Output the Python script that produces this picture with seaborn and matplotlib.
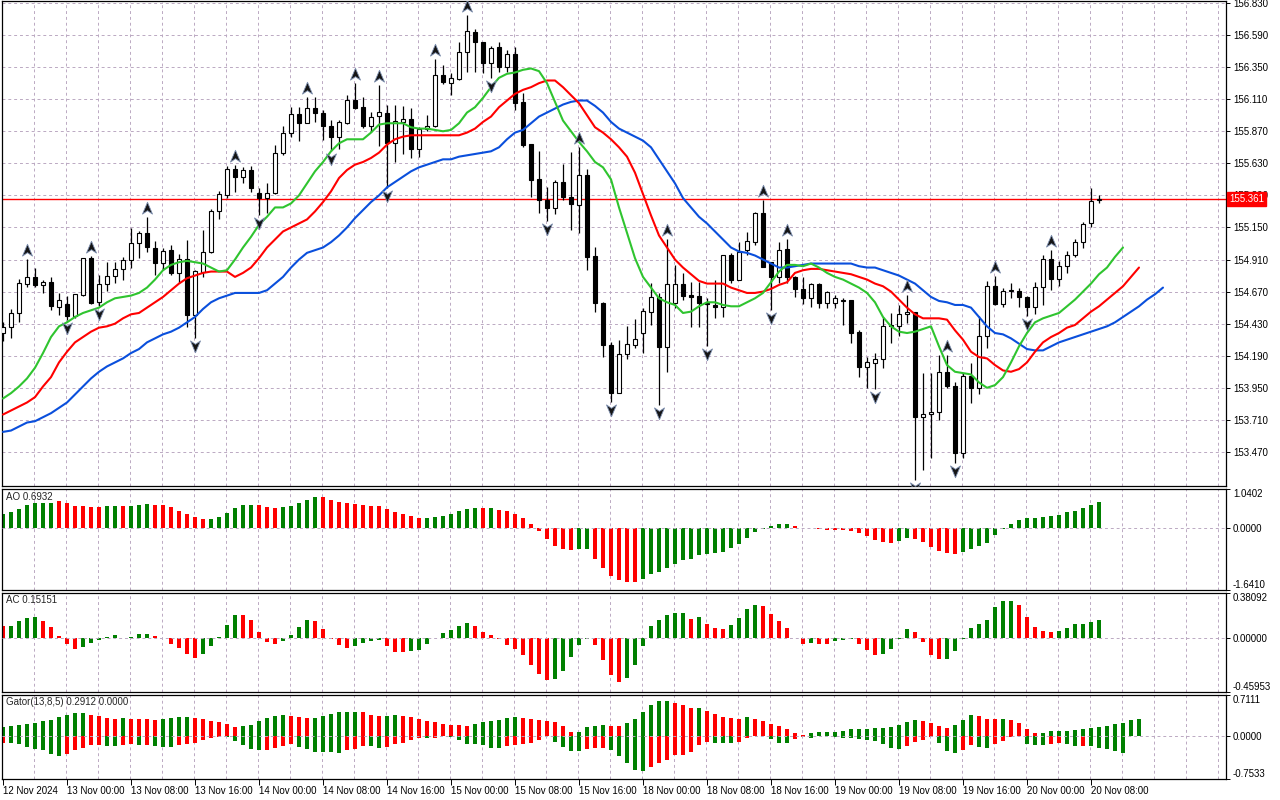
import numpy as np
import pandas as pd
import matplotlib
matplotlib.use("Agg")
import matplotlib.pyplot as plt
import seaborn as sns
from matplotlib import transforms
from matplotlib.path import Path

# ---- hourly candles ----
OPEN = [154.36, 154.405, 154.51, 154.73, 154.78, 154.72, 154.74, 154.555, 154.58, 154.49,
        154.645, 154.92, 154.59, 154.728, 154.787, 154.84, 154.907, 155.035, 155.11, 154.997,
        154.885, 154.98, 154.81, 154.915, 154.495, 154.82, 154.97, 155.273, 155.393, 155.588,
        155.53, 155.58, 155.41, 155.37, 155.41, 155.708, 155.86, 156.0, 155.934, 156.045,
        156.01, 155.91, 155.827, 155.933, 156.104, 156.05, 155.91, 155.985, 156.007, 155.783,
        155.94, 155.96, 155.74, 155.888, 155.91, 156.29, 156.232, 156.26, 156.463, 156.613,
        156.54, 156.38, 156.50, 156.352, 156.45, 156.09, 155.775, 155.513, 155.356, 155.296,
        155.49, 155.378, 155.32, 155.543, 154.937, 154.585, 154.27, 153.912, 154.203, 154.27,
        154.36, 154.518, 154.63, 154.255, 154.585, 154.727, 154.645, 154.637, 154.585, 154.57,
        154.555, 154.944, 154.757, 154.98, 155.041, 155.258, 154.892, 154.78, 154.989, 154.78,
        154.69, 154.622, 154.727, 154.585, 154.585, 154.60, 154.607, 154.368, 154.105, 154.136,
        154.165, 154.413, 154.413, 154.503, 154.518, 153.732, 153.755, 153.77, 154.068, 153.963,
        153.463, 154.038, 153.948, 154.338, 154.713, 154.578, 154.675, 154.675, 154.63, 154.555,
        154.705, 154.915, 154.765, 154.862, 154.944, 155.04, 155.18, 155.353]
HIGH = [154.44, 154.54, 154.765, 154.915, 154.847, 154.757, 154.78, 154.66, 154.64, 154.655,
        154.925, 154.937, 154.795, 154.89, 154.89, 154.93, 155.146, 155.12, 155.23, 155.05,
        155.0, 155.02, 154.95, 155.056, 154.83, 155.13, 155.29, 155.42, 155.61, 155.62,
        155.60, 155.61, 155.447, 155.485, 155.77, 155.91, 156.05, 156.05, 156.127, 156.127,
        156.03, 155.955, 155.955, 156.14, 156.232, 156.127, 156.015, 156.216, 156.067, 156.067,
        156.06, 156.045, 155.90, 155.99, 156.41, 156.367, 156.307, 156.54, 156.74, 156.635,
        156.54, 156.508, 156.54, 156.475, 156.50, 156.157, 155.775, 155.723, 155.453, 155.505,
        155.625, 155.715, 155.753, 155.588, 155.004, 154.593, 154.293, 154.308, 154.413, 154.465,
        154.548, 154.735, 154.66, 155.064, 154.87, 154.81, 154.742, 154.742, 154.622, 154.757,
        154.944, 154.96, 155.04, 155.116, 155.266, 155.356, 154.892, 155.04, 155.064, 154.787,
        154.78, 154.735, 154.735, 154.675, 154.645, 154.622, 154.607, 154.383, 154.18, 154.21,
        154.48, 154.51, 154.57, 154.645, 154.52, 154.06, 154.06, 154.195, 154.195, 153.99,
        154.06, 154.135, 154.488, 154.75, 154.787, 154.697, 154.735, 154.697, 154.637, 154.742,
        154.944, 154.982, 154.90, 154.974, 155.064, 155.19, 155.446, 155.39]
LOW = [154.30, 154.32, 154.44, 154.705, 154.705, 154.66, 154.53, 154.495, 154.46, 154.47,
       154.64, 154.58, 154.56, 154.675, 154.735, 154.757, 154.847, 154.92, 154.967, 154.795,
       154.83, 154.795, 154.735, 154.405, 154.325, 154.78, 154.96, 155.21, 155.37, 155.415,
       155.48, 155.415, 155.245, 155.26, 155.40, 155.69, 155.83, 155.80, 155.93, 155.94,
       155.806, 155.72, 155.735, 155.925, 156.04, 155.895, 155.865, 155.76, 155.447, 155.64,
       155.70, 155.67, 155.68, 155.875, 155.905, 156.225, 156.14, 156.254, 156.314, 156.314,
       156.307, 156.268, 156.314, 156.314, 156.03, 155.753, 155.378, 155.258, 155.198, 155.25,
       155.356, 155.13, 155.11, 154.832, 154.518, 154.18, 153.844, 153.912, 154.166, 154.248,
       154.21, 154.42, 153.82, 154.07, 154.548, 154.608, 154.405, 154.405, 154.262, 154.472,
       154.48, 154.735, 154.757, 154.944, 155.018, 154.855, 154.533, 154.735, 154.735, 154.63,
       154.578, 154.555, 154.548, 154.548, 154.548, 154.42, 154.285, 154.03, 153.948, 153.94,
       154.098, 154.285, 154.338, 154.435, 153.26, 153.335, 153.425, 153.71, 153.948, 153.388,
       153.425, 153.836, 153.90, 154.248, 154.57, 154.555, 154.622, 154.555, 154.49, 154.505,
       154.57, 154.682, 154.712, 154.81, 154.93, 155.0, 155.154, 155.33]
CLOSE = [154.405, 154.51, 154.735, 154.78, 154.72, 154.74, 154.56, 154.607, 154.49, 154.65,
         154.92, 154.585, 154.728, 154.787, 154.84, 154.907, 155.035, 155.11, 155.005, 154.885,
         154.975, 154.81, 154.915, 154.495, 154.824, 154.97, 155.273, 155.40, 155.588, 155.53,
         155.58, 155.447, 155.37, 155.41, 155.708, 155.86, 156.0, 155.934, 156.045, 156.007,
         155.91, 155.827, 155.94, 156.104, 156.045, 155.91, 155.977, 156.015, 155.783, 155.948,
         155.96, 155.74, 155.888, 155.91, 156.29, 156.24, 156.27, 156.463, 156.62, 156.54,
         156.38, 156.49, 156.352, 156.45, 156.082, 155.768, 155.505, 155.356, 155.296, 155.49,
         155.378, 155.326, 155.543, 154.93, 154.585, 154.27, 153.912, 154.203, 154.278, 154.315,
         154.525, 154.63, 154.255, 154.727, 154.727, 154.637, 154.63, 154.585, 154.578, 154.555,
         154.944, 154.757, 154.967, 155.048, 155.258, 154.855, 154.78, 154.98, 154.78, 154.69,
         154.622, 154.727, 154.585, 154.667, 154.622, 154.605, 154.36, 154.105, 154.143, 154.165,
         154.413, 154.42, 154.503, 154.518, 153.732, 153.755, 153.77, 154.068, 153.963, 153.463,
         154.038, 153.948, 154.338, 154.713, 154.578, 154.675, 154.682, 154.63, 154.555, 154.705,
         154.915, 154.765, 154.862, 154.944, 155.04, 155.176, 155.35, 155.361]

# ---- alligator lines (already shifted forward, so they run past the last candle) ----
JAW = [153.62, 153.63, 153.66, 153.69, 153.70, 153.73, 153.76, 153.80, 153.84, 153.90,
       153.96, 154.02, 154.07, 154.11, 154.14, 154.17, 154.21, 154.24, 154.29, 154.32,
       154.35, 154.37, 154.40, 154.44, 154.48, 154.54, 154.59, 154.62, 154.64, 154.66,
       154.66, 154.66, 154.66, 154.68, 154.73, 154.78, 154.85, 154.91, 154.96, 154.98,
       155.00, 155.04, 155.09, 155.15, 155.22, 155.28, 155.34, 155.39, 155.45, 155.49,
       155.53, 155.57, 155.60, 155.62, 155.64, 155.66, 155.66, 155.68, 155.69, 155.70,
       155.71, 155.72, 155.75, 155.81, 155.86, 155.88, 155.93, 155.98, 156.01, 156.04,
       156.07, 156.09, 156.10, 156.10, 156.06, 156.01, 155.94, 155.89, 155.86, 155.83,
       155.80, 155.75, 155.66, 155.57, 155.48, 155.37, 155.30, 155.23, 155.18, 155.12,
       155.06, 155.00, 154.97, 154.96, 154.94, 154.91, 154.88, 154.85, 154.85, 154.86,
       154.87, 154.88, 154.88, 154.88, 154.88, 154.88, 154.88, 154.86, 154.85, 154.85,
       154.83, 154.81, 154.79, 154.76, 154.73, 154.68, 154.63, 154.60, 154.59, 154.57,
       154.57, 154.55, 154.48, 154.41, 154.36, 154.35, 154.32, 154.28, 154.24, 154.23,
       154.23, 154.26, 154.29, 154.31, 154.33, 154.35, 154.37, 154.39, 154.41, 154.44,
       154.48, 154.52, 154.56, 154.61, 154.65, 154.70]
TEETH = [153.75, 153.78, 153.81, 153.84, 153.88, 153.96, 154.03, 154.14, 154.22, 154.29,
         154.33, 154.37, 154.40, 154.41, 154.43, 154.47, 154.50, 154.51, 154.55, 154.59,
         154.63, 154.68, 154.73, 154.77, 154.79, 154.81, 154.82, 154.82, 154.82, 154.78,
         154.81, 154.85, 154.92, 155.00, 155.06, 155.12, 155.15, 155.18, 155.21, 155.27,
         155.34, 155.42, 155.52, 155.58, 155.62, 155.64, 155.67, 155.71, 155.77, 155.81,
         155.83, 155.84, 155.84, 155.84, 155.84, 155.84, 155.84, 155.84, 155.86, 155.89,
         155.94, 155.98, 156.05, 156.10, 156.15, 156.18, 156.20, 156.23, 156.25, 156.25,
         156.20, 156.14, 156.08, 155.99, 155.90, 155.86, 155.81, 155.75, 155.68, 155.56,
         155.40, 155.24, 155.09, 155.00, 154.91, 154.85, 154.80, 154.75, 154.73, 154.73,
         154.73, 154.70, 154.68, 154.66, 154.66, 154.67, 154.69, 154.72, 154.74, 154.81,
         154.83, 154.84, 154.84, 154.83, 154.82, 154.81, 154.80, 154.78, 154.76, 154.73,
         154.71, 154.67, 154.61, 154.55, 154.50, 154.47, 154.47, 154.47, 154.46, 154.38,
         154.31, 154.22, 154.18, 154.17, 154.12, 154.08, 154.07, 154.09, 154.14, 154.22,
         154.29, 154.33, 154.36, 154.40, 154.42, 154.47, 154.52, 154.56, 154.61, 154.66,
         154.71, 154.78, 154.85]
LIPS = [153.87, 153.91, 153.96, 154.02, 154.10, 154.21, 154.33, 154.41, 154.44, 154.48,
        154.51, 154.53, 154.55, 154.59, 154.62, 154.63, 154.64, 154.66, 154.70, 154.76,
        154.83, 154.87, 154.89, 154.90, 154.89, 154.88, 154.85, 154.82, 154.83, 154.91,
        155.00, 155.08, 155.17, 155.23, 155.30, 155.30, 155.33, 155.39, 155.48, 155.57,
        155.64, 155.72, 155.78, 155.81, 155.81, 155.81, 155.86, 155.92, 155.93, 155.93,
        155.93, 155.90, 155.89, 155.89, 155.88, 155.87, 155.88, 155.93, 156.01, 156.05,
        156.12, 156.20, 156.27, 156.30, 156.31, 156.33, 156.34, 156.32, 156.23, 156.09,
        155.95, 155.87, 155.79, 155.72, 155.64, 155.60, 155.51, 155.30, 155.11, 154.92,
        154.78, 154.70, 154.62, 154.59, 154.57, 154.51, 154.52, 154.56, 154.59, 154.59,
        154.57, 154.56, 154.56, 154.59, 154.62, 154.66, 154.74, 154.82, 154.87, 154.87,
        154.86, 154.88, 154.85, 154.81, 154.78, 154.76, 154.73, 154.70, 154.66, 154.59,
        154.48, 154.41, 154.37, 154.36, 154.37, 154.39, 154.41, 154.26, 154.12, 154.07,
        154.06, 154.05, 153.99, 153.95, 153.97, 154.03, 154.14, 154.26, 154.36, 154.44,
        154.47, 154.49, 154.51, 154.56, 154.61, 154.67, 154.73, 154.80, 154.85, 154.93,
        155.00]

# fractal bars
UP_FRACTALS = [3, 11, 18, 29, 38, 44, 47, 54, 58, 72, 83, 95, 98, 113, 118, 124, 131]
DOWN_FRACTALS = [8, 12, 24, 32, 41, 48, 61, 68, 76, 82, 88, 96, 109, 114, 119, 128]

# ---- Awesome Oscillator ----
AO = [0.377, 0.421, 0.50, 0.623, 0.667, 0.667, 0.667, 0.711, 0.667, 0.579,
      0.579, 0.553, 0.553, 0.579, 0.579, 0.579, 0.579, 0.614, 0.640, 0.614,
      0.614, 0.553, 0.465, 0.377, 0.289, 0.246, 0.246, 0.289, 0.404, 0.526,
      0.614, 0.614, 0.614, 0.553, 0.526, 0.553, 0.579, 0.667, 0.754, 0.816,
      0.816, 0.746, 0.684, 0.658, 0.640, 0.614, 0.596, 0.579, 0.509, 0.421,
      0.377, 0.316, 0.263, 0.263, 0.289, 0.333, 0.377, 0.447, 0.50, 0.526,
      0.526, 0.526, 0.491, 0.447, 0.377, 0.263, 0.114, -0.088, -0.289, -0.474,
      -0.544, -0.570, -0.544, -0.544, -0.807, -1.044, -1.263, -1.386, -1.421, -1.421,
      -1.351, -1.228, -1.158, -1.070, -0.939, -0.833, -0.807, -0.702, -0.675, -0.658,
      -0.632, -0.526, -0.412, -0.254, -0.096, -0.018, 0.053, 0.105, 0.105, 0.070,
      0.018, 0.005, -0.009, -0.044, -0.044, -0.044, -0.079, -0.123, -0.211, -0.307,
      -0.360, -0.386, -0.342, -0.254, -0.289, -0.368, -0.50, -0.605, -0.658, -0.684,
      -0.632, -0.553, -0.474, -0.386, -0.175, -0.009, 0.105, 0.211, 0.263, 0.263,
      0.289, 0.316, 0.342, 0.421, 0.465, 0.526, 0.605, 0.6932]
AO_RUNS = [('g', 7), ('r', 6), ('g', 2), ('r', 1), ('g', 3), ('r', 7), ('g', 6), ('r', 3),
           ('g', 5), ('r', 13), ('g', 7), ('r', 1), ('g', 1), ('r', 10), ('g', 2), ('r', 6),
           ('g', 19), ('r', 2), ('g', 1), ('r', 10), ('g', 2), ('r', 6), ('g', 18)]

# ---- Accelerator Oscillator ----
AC = [0.097, 0.103, 0.139, 0.169, 0.178, 0.144, 0.094, 0.019, -0.056, -0.097,
      -0.081, -0.047, -0.022, 0.008, 0.028, -0.003, 0.008, 0.036, 0.036, 0.019,
      -0.003, -0.053, -0.089, -0.139, -0.172, -0.136, -0.069, 0.011, 0.111, 0.194,
      0.194, 0.153, 0.053, -0.036, -0.053, -0.028, 0.028, 0.094, 0.153, 0.144,
      0.078, -0.011, -0.064, -0.089, -0.069, -0.044, -0.025, -0.019, -0.069, -0.119,
      -0.119, -0.111, -0.103, -0.053, 0.003, 0.044, 0.069, 0.103, 0.128, 0.103,
      0.053, 0.028, -0.011, -0.061, -0.094, -0.147, -0.231, -0.303, -0.361, -0.353,
      -0.278, -0.164, -0.064, -0.008, -0.061, -0.186, -0.314, -0.378, -0.344, -0.231,
      -0.069, 0.103, 0.153, 0.194, 0.211, 0.211, 0.161, 0.178, 0.119, 0.086,
      0.078, 0.111, 0.169, 0.244, 0.278, 0.269, 0.203, 0.144, 0.086, -0.003,
      -0.056, -0.047, -0.050, -0.056, -0.028, -0.017, -0.011, -0.056, -0.106, -0.147,
      -0.139, -0.097, -0.011, 0.078, 0.053, -0.039, -0.147, -0.181, -0.178, -0.111,
      -0.011, 0.086, 0.119, 0.153, 0.261, 0.311, 0.311, 0.278, 0.178, 0.094,
      0.061, 0.053, 0.061, 0.086, 0.119, 0.119, 0.136, 0.15151]
AC_RUNS = [('r', 1), ('g', 4), ('r', 5), ('g', 5), ('r', 1), ('g', 3), ('r', 6), ('g', 5),
           ('r', 5), ('g', 4), ('r', 5), ('g', 4), ('r', 3), ('g', 8), ('r', 10), ('g', 5),
           ('r', 4), ('g', 8), ('r', 1), ('g', 1), ('r', 3), ('g', 4), ('r', 6), ('g', 1),
           ('r', 2), ('g', 3), ('r', 3), ('g', 4), ('r', 4), ('g', 9), ('r', 5), ('g', 6)]

# ---- Gator oscillator ----
GATOR_UP = [0.146, 0.163, 0.181, 0.198, 0.216, 0.251, 0.268, 0.321, 0.355, 0.390,
            0.390, 0.355, 0.338, 0.303, 0.286, 0.303, 0.300, 0.290, 0.286, 0.283,
            0.286, 0.303, 0.321, 0.321, 0.303, 0.286, 0.251, 0.233, 0.198, 0.146,
            0.163, 0.181, 0.251, 0.303, 0.338, 0.355, 0.338, 0.321, 0.303, 0.303,
            0.338, 0.373, 0.408, 0.408, 0.408, 0.408, 0.355, 0.338, 0.338, 0.355,
            0.352, 0.321, 0.286, 0.251, 0.233, 0.198, 0.196, 0.181, 0.163, 0.198,
            0.233, 0.251, 0.268, 0.303, 0.321, 0.318, 0.286, 0.268, 0.251, 0.233,
            0.163, 0.058, 0.060, 0.146, 0.163, 0.181, 0.178, 0.176, 0.216, 0.286,
            0.408, 0.530, 0.600, 0.602, 0.565, 0.530, 0.478, 0.480, 0.425, 0.373,
            0.321, 0.303, 0.300, 0.321, 0.286, 0.251, 0.198, 0.163, 0.111, 0.041,
            0.017, 0.041, 0.058, 0.060, 0.062, 0.076, 0.111, 0.113, 0.115, 0.128,
            0.130, 0.146, 0.181, 0.233, 0.268, 0.251, 0.216, 0.163, 0.128, 0.181,
            0.268, 0.355, 0.338, 0.286, 0.284, 0.286, 0.268, 0.216, 0.111, 0.041,
            0.043, 0.076, 0.078, 0.080, 0.093, 0.111, 0.128, 0.146, 0.163, 0.198,
            0.216, 0.268, 0.2912]
GATOR_DN = [-0.117, -0.134, -0.146, -0.192, -0.239, -0.251, -0.326, -0.344, -0.309, -0.256,
            -0.221, -0.169, -0.152, -0.181, -0.181, -0.152, -0.150, -0.155, -0.152, -0.181,
            -0.198, -0.200, -0.163, -0.146, -0.117, -0.076, -0.041, -0.017, -0.029, -0.093,
            -0.163, -0.239, -0.256, -0.250, -0.216, -0.181, -0.146, -0.192, -0.239, -0.286,
            -0.286, -0.288, -0.303, -0.256, -0.227, -0.181, -0.183, -0.221, -0.198, -0.146,
            -0.128, -0.076, -0.041, -0.043, -0.040, -0.006, -0.023, -0.076, -0.146, -0.148,
            -0.163, -0.216, -0.218, -0.181, -0.163, -0.146, -0.128, -0.076, -0.006, -0.111,
            -0.198, -0.268, -0.270, -0.227, -0.216, -0.214, -0.251, -0.355, -0.478, -0.600,
            -0.618, -0.548, -0.478, -0.425, -0.338, -0.336, -0.286, -0.163, -0.111, -0.128,
            -0.130, -0.132, -0.111, -0.041, -0.006, -0.003, -0.058, -0.117, -0.134, -0.058,
            -0.023, -0.041, -0.006, -0.008, -0.023, -0.041, -0.043, -0.058, -0.076, -0.093,
            -0.146, -0.216, -0.233, -0.181, -0.111, -0.076, -0.023, -0.128, -0.268, -0.303,
            -0.251, -0.163, -0.198, -0.216, -0.146, -0.093, -0.023, -0.006, -0.146, -0.163,
            -0.165, -0.146, -0.128, -0.146, -0.181, -0.179, -0.181, -0.216, -0.233, -0.268,
            -0.303, -0.005, 0.0]
GATOR_UP_RUNS = [('g', 11), ('r', 4), ('g', 1), ('r', 4), ('g', 4), ('r', 6), ('g', 6), ('r', 3),
                 ('g', 6), ('r', 3), ('g', 2), ('r', 9), ('g', 6), ('r', 7), ('g', 4), ('r', 2),
                 ('g', 6), ('r', 3), ('g', 1), ('r', 5), ('g', 1), ('r', 7), ('g', 14), ('r', 4),
                 ('g', 3), ('r', 3), ('g', 1), ('r', 4), ('g', 13)]
GATOR_DN_RUNS = [('r', 1), ('g', 7), ('r', 5), ('g', 2), ('r', 2), ('g', 1), ('r', 1), ('g', 3),
                 ('r', 6), ('g', 5), ('r', 4), ('g', 6), ('r', 3), ('g', 2), ('r', 5), ('g', 1),
                 ('r', 2), ('g', 7), ('r', 6), ('g', 4), ('r', 3), ('g', 5), ('r', 8), ('g', 3),
                 ('r', 4), ('g', 3), ('r', 2), ('g', 1), ('r', 1), ('g', 10), ('r', 4), ('g', 3),
                 ('r', 2), ('g', 2), ('r', 4), ('g', 3), ('r', 2), ('g', 2), ('r', 1), ('g', 5),
                 ('r', 2)]

# ---- axis text ----
PRICE_TICKS = [156.830, 156.590, 156.350, 156.110, 155.870, 155.630, 155.390, 155.150,
               154.910, 154.670, 154.430, 154.190, 153.950, 153.710, 153.470]
LAST_PRICE = 155.361
TIME_BARS = [0, 8, 16, 24, 32, 40, 48, 56, 64, 72, 80, 88, 96, 104, 112, 120, 128, 136]
TIME_LABELS = ['12 Nov 2024', '13 Nov 00:00', '13 Nov 08:00', '13 Nov 16:00', '14 Nov 00:00',
               '14 Nov 08:00', '14 Nov 16:00', '15 Nov 00:00', '15 Nov 08:00', '15 Nov 16:00',
               '18 Nov 00:00', '18 Nov 08:00', '18 Nov 16:00', '19 Nov 00:00', '19 Nov 08:00',
               '19 Nov 16:00', '20 Nov 00:00', '20 Nov 08:00']
AO_LIM = (-1.6410, 1.0402)
AC_LIM = (-0.45953, 0.38092)
GATOR_LIM = (-0.7533, 0.7111)

GREEN, RED = '#008000', '#ff0000'
GRID = '#bba9c2'
FS = 7


def expand(runs):
    out = []
    for c, n in runs:
        out += [c] * n
    return out


def px_box(x0, y0, x1, y1):
    return [x0 / 1280, 1 - y1 / 800, (x1 - x0) / 1280, (y1 - y0) / 800]


def frame(ax):
    ax.set_xlim(-0.125, 152.875)
    ax.set_xlabel('')
    ax.set_ylabel('')
    ax.set_xticks([])
    for s in ax.spines.values():
        s.set_visible(True)
        s.set_color('black')
        s.set_linewidth(0.9)
    for x in range(4, 153, 4):
        ax.axvline(x - 0.1, color=GRID, lw=0.7, ls=(0, (3, 3)), zorder=0)
    ax.yaxis.tick_right()
    ax.tick_params(axis='y', direction='out', length=3, width=0.7, pad=2,
                   labelsize=FS, colors='black', right=True, left=False)


def histogram(ax, values, runs, lim, fmt, title):
    d = pd.DataFrame({'x': np.arange(len(values)), 'v': values, 'c': expand(runs)})
    sns.barplot(data=d, x='x', y='v', hue='c', palette={'g': GREEN, 'r': RED},
                native_scale=True, dodge=False, width=0.62, errorbar=None,
                legend=False, saturation=1, linewidth=0, ax=ax)
    ax.axhline(0, color=GRID, lw=0.7, ls=(0, (3, 3)), zorder=3)
    frame(ax)
    ax.set_ylim(*lim)
    ax.set_yticks([lim[0], 0, lim[1]])
    ax.set_yticklabels([fmt % lim[0], fmt % 0, fmt % lim[1]])
    lbls = ax.get_yticklabels()
    lbls[0].set_va('bottom')
    lbls[-1].set_va('top')
    ax.text(0.003, 0.975, title, transform=ax.transAxes, ha='left', va='top', fontsize=FS)


sns.set_theme(style='white')
plt.rcParams['font.family'] = ['Liberation Sans', 'DejaVu Sans']

fig = plt.figure(figsize=(12.8, 8), dpi=100)
main = fig.add_axes(px_box(2, 1, 1226, 486))
ao_ax = fig.add_axes(px_box(2, 489, 1226, 590))
ac_ax = fig.add_axes(px_box(2, 593, 1226, 692))
gt_ax = fig.add_axes(px_box(2, 695, 1226, 779))

# ---- price panel ----
o, h, l, c = (np.array(a) for a in (OPEN, HIGH, LOW, CLOSE))
idx = np.arange(len(o))
bull = c >= o
main.vlines(idx, l, h, color='black', lw=0.9, zorder=3)
main.bar(idx, np.abs(c - o), bottom=np.minimum(o, c), width=0.62,
         color=np.where(bull, 'white', 'black'), edgecolor='black', linewidth=0.8, zorder=4)

for vals, col in ((JAW, '#0a4fdc'), (TEETH, '#ff0000'), (LIPS, '#2fc42f')):
    sns.lineplot(x=np.arange(len(vals)), y=vals, color=col, linewidth=1.5, ax=main, zorder=5)

up_path = Path([(0, 1), (0.8, -0.9), (0, -0.35), (-0.8, -0.9), (0, 1)],
               [Path.MOVETO, Path.LINETO, Path.LINETO, Path.LINETO, Path.CLOSEPOLY])
dn_path = Path([(0, -1), (0.8, 0.9), (0, 0.35), (-0.8, 0.9), (0, -1)],
               [Path.MOVETO, Path.LINETO, Path.LINETO, Path.LINETO, Path.CLOSEPOLY])
up_tr = transforms.offset_copy(main.transData, fig=fig, y=9, units='dots')
dn_tr = transforms.offset_copy(main.transData, fig=fig, y=-8, units='dots')
main.plot(UP_FRACTALS, h[UP_FRACTALS], ls='none', marker=up_path, markersize=9,
          mfc='#151515', mec='#7d8fb0', mew=0.6, transform=up_tr, zorder=6, clip_on=True)
main.plot(DOWN_FRACTALS, l[DOWN_FRACTALS], ls='none', marker=dn_path, markersize=9,
          mfc='#151515', mec='#7d8fb0', mew=0.6, transform=dn_tr, zorder=6, clip_on=True)

for p in PRICE_TICKS:
    main.axhline(p, color=GRID, lw=0.7, ls=(0, (3, 3)), zorder=0)
main.axhline(LAST_PRICE, color='red', lw=1.0, zorder=2)

frame(main)
main.set_ylim(153.215, 156.845)
main.set_yticks(PRICE_TICKS)
main.set_yticklabels(['%.3f' % p for p in PRICE_TICKS])
# current bid box sits over the 155.390 label, as in the terminal
main.text(1.0025, LAST_PRICE, '%.3f' % LAST_PRICE,
          transform=transforms.blended_transform_factory(main.transAxes, main.transData),
          ha='left', va='center', fontsize=FS, color='white', zorder=10, clip_on=False,
          bbox=dict(boxstyle='square,pad=0.22', fc='red', ec='red'))

# ---- indicator panels ----
histogram(ao_ax, AO, AO_RUNS, AO_LIM, '%.4f', 'AO 0.6932')
histogram(ac_ax, AC, AC_RUNS, AC_LIM, '%.5f', 'AC 0.15151')

gd = pd.DataFrame({'x': np.concatenate([np.arange(len(GATOR_UP)), np.arange(len(GATOR_DN))]),
                   'v': GATOR_UP + GATOR_DN,
                   'c': expand(GATOR_UP_RUNS) + expand(GATOR_DN_RUNS),
                   'side': ['up'] * len(GATOR_UP) + ['dn'] * len(GATOR_DN)})
for side in ('up', 'dn'):
    part = gd[gd['side'] == side]
    sns.barplot(data=part, x='x', y='v', hue='c', palette={'g': GREEN, 'r': RED},
                native_scale=True, dodge=False, width=0.62, errorbar=None,
                legend=False, saturation=1, linewidth=0, ax=gt_ax)
gt_ax.axhline(0, color=GRID, lw=0.7, ls=(0, (3, 3)), zorder=3)
frame(gt_ax)
gt_ax.set_ylim(*GATOR_LIM)
gt_ax.set_yticks([GATOR_LIM[0], 0, GATOR_LIM[1]])
gt_ax.set_yticklabels(['%.4f' % GATOR_LIM[0], '0.0000', '%.4f' % GATOR_LIM[1]])
gl = gt_ax.get_yticklabels()
gl[0].set_va('bottom')
gl[-1].set_va('top')
gt_ax.text(0.003, 0.975, 'Gator(13,8,5) 0.2912 0.0000', transform=gt_ax.transAxes,
           ha='left', va='top', fontsize=FS)

# time axis under the last panel
gt_ax.set_xticks(TIME_BARS)
gt_ax.set_xticklabels(TIME_LABELS, ha='left', fontsize=FS)
gt_ax.tick_params(axis='x', direction='out', length=4, width=0.7, pad=1, bottom=True,
                  colors='black')

fig.savefig('out.png', dpi=100)
